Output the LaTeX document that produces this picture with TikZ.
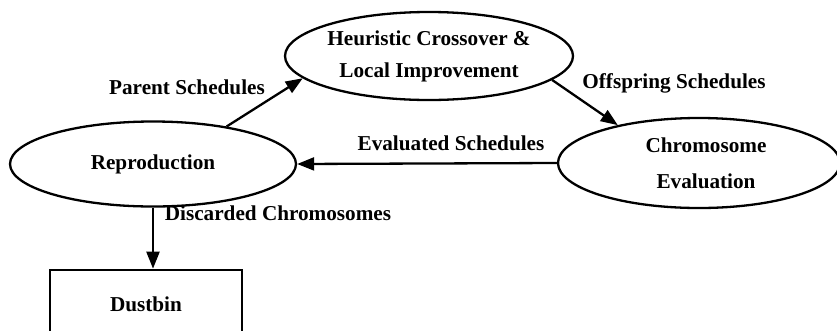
\documentclass[tikz,border=0pt]{standalone}
\usepackage{fontspec}
\setmainfont{Liberation Serif}
\usetikzlibrary{arrows.meta,positioning,shapes.geometric}
\newcommand{\gafont}{\bfseries\fontsize{21.2}{32}\selectfont}
\tikzset{
  stage/.style={draw, ellipse, line width=2.3pt, inner sep=0pt, align=center, font=\gafont},
  bin/.style={draw, rectangle, line width=2.3pt, minimum width=192pt, minimum height=68pt, font=\gafont},
  arrow/.style={-{Triangle[length=17pt,width=13pt]}, line width=2.3pt},
  lbl/.style={inner sep=0pt, font=\gafont}
}

\begin{document}
\begin{tikzpicture}[x=1pt, y=1pt]
  \clip (0,0) rectangle (837,-330);
  \node[stage, minimum width=286pt, minimum height=85pt] (repro) at (153,-164) {Reproduction};
  \node[stage, minimum width=288pt, minimum height=88pt] (heur) at (429,-56) {Heuristic Crossover \&\\Local Improvement};
  \node[stage, minimum width=282pt, minimum height=90pt] (chrom) at (699,-163) {\hspace*{14pt}Chromosome\\[4pt]\hspace*{14pt}Evaluation};
  \node[bin, below=61pt of repro, xshift=-7pt] (dust) {Dustbin};

  \node[lbl] (parent) at (187,-87) {Parent Schedules};
  \node[lbl] (offspring) at (674,-83) {Offspring Schedules};
  \node[lbl] (evaluated) at (451,-143) {Evaluated Schedules};
  \node[lbl] (discard) at (278,-213) {Discarded Chromosomes};

  \draw[arrow] (repro.27) -- (heur.190);
  \draw[arrow] (heur.-11) -- (chrom.155);
  \draw[arrow] (chrom.west) -- (repro.east);
  \draw[arrow] (repro.south) -- (repro.south |- dust.north);
\end{tikzpicture}
\end{document}
